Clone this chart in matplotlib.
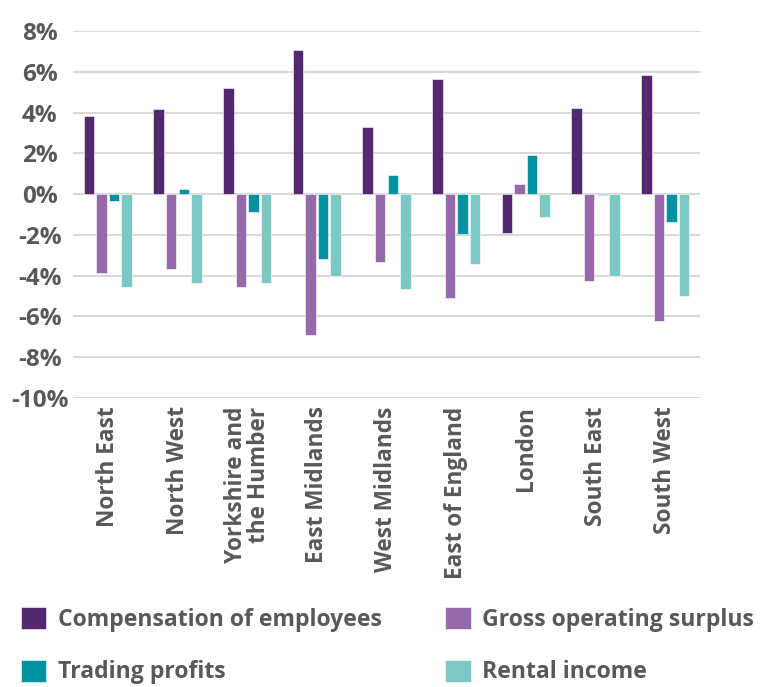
import matplotlib.pyplot as plt
import numpy as np

plt.rcParams['font.family'] = ['Open Sans', 'DejaVu Sans']

regions = ["North East", "North West", "Yorkshire and\nthe Humber", "East Midlands",
           "West Midlands", "East of England", "London", "South East", "South West"]

compensation = [3.85, 4.15, 5.2, 7.05, 3.3, 5.67, -1.9, 4.24, 5.82]
gross_surplus = [-3.86, -3.65, -4.55, -6.93, -3.35, -5.1, 0.49, -4.25, -6.24]
trading = [-0.35, 0.25, -0.9, -3.18, 0.95, -1.97, 1.94, -0.05, -1.35]
rental = [-4.55, -4.35, -4.35, -4.0, -4.63, -3.42, -1.11, -4.03, -5.02]

series = [("Compensation of employees", compensation, "#52286E"),
          ("Gross operating surplus", gross_surplus, "#9669AA"),
          ("Trading profits", trading, "#0092A0"),
          ("Rental income", rental, "#7CC8C3")]

yticks = [8, 6, 4, 2, 0, -2, -4, -6, -8, -10]
txt = "#595959"

fig = plt.figure(figsize=(7.64, 6.87), dpi=100)
ax = fig.add_axes([73/764, 1 - 398/687, (700 - 73)/764, (398 - 31)/687])

x = np.arange(len(regions))
offsets = [-0.27, -0.09, 0.09, 0.27]
bars = []
for (name, vals, col), off in zip(series, offsets):
    b = ax.bar(x + off, vals, width=0.15, color=col, edgecolor="white",
               linewidth=0.4, label=name, zorder=3)
    bars.append(b)

ax.set_xlim(-0.5, len(regions) - 0.5)
ax.set_ylim(-10, 8)
ax.set_yticks(yticks, [f"{v}%" for v in yticks])
ax.yaxis.grid(True, color="#d9d9d9", linewidth=1.5, zorder=0)
ax.set_axisbelow(True)
for s in ax.spines.values():
    s.set_visible(False)
# labels are centred about x~40px in the reference
ax.tick_params(axis="y", length=0, pad=24, labelsize=17.5, labelcolor=txt)
for lab in ax.get_yticklabels():
    lab.set_fontweight("bold")
    lab.set_horizontalalignment("center")
ax.set_xticks(x)
ax.set_xticklabels(regions, rotation=90, fontsize=16.3, color=txt, ma="right",
                   fontweight="bold", linespacing=0.95)
ax.tick_params(axis="x", length=0, pad=6)

handles = [bars[0], bars[2], bars[1], bars[3]]
labels = [series[0][0], series[2][0], series[1][0], series[3][0]]
leg = fig.legend(handles, labels, ncol=2, loc="upper left",
                 bbox_to_anchor=(21/764, 1 - 607/687), frameon=False,
                 borderpad=0, borderaxespad=0, handlelength=1.1, handleheight=1.1,
                 handletextpad=0.5, columnspacing=2.75, labelspacing=1.2,
                 prop={"size": 16.6, "weight": "bold"})
for t in leg.get_texts():
    t.set_color(txt)

fig.savefig("out.png", dpi=100)
